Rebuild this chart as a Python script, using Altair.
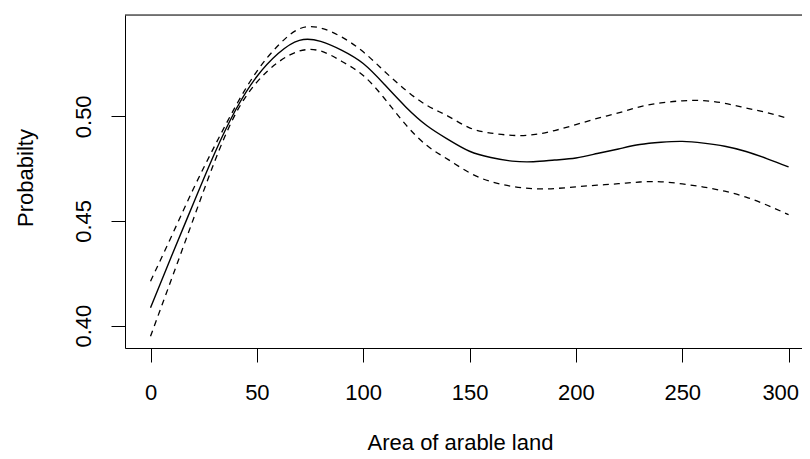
import altair as alt
import pandas as pd

# ---- data ----
x_vals = [0, 10, 20, 30, 40, 50, 60, 70, 80, 90, 100, 110, 120, 130, 140, 150,
          160, 170, 180, 190, 200, 210, 220, 230, 240, 250, 260, 270, 280, 290, 300]
fit = [0.4085, 0.4335, 0.4580, 0.4820, 0.5030, 0.5190, 0.5300, 0.5363, 0.5358, 0.5315,
       0.5252, 0.5152, 0.5045, 0.4955, 0.4889, 0.4833, 0.4803, 0.4786, 0.4783, 0.4791,
       0.4801, 0.4822, 0.4844, 0.4865, 0.4876, 0.4880, 0.4872, 0.4857, 0.4832, 0.4797, 0.4758]
upper = [0.4212, 0.4430, 0.4650, 0.4855, 0.5048, 0.5215, 0.5338, 0.5418, 0.5422, 0.5378,
         0.5308, 0.5215, 0.5125, 0.5052, 0.5000, 0.4945, 0.4920, 0.4909, 0.4912, 0.4932,
         0.4960, 0.4990, 0.5016, 0.5045, 0.5064, 0.5074, 0.5075, 0.5062, 0.5040, 0.5017, 0.4989]
lower = [0.3949, 0.4226, 0.4505, 0.4780, 0.5012, 0.5163, 0.5258, 0.5312, 0.5312, 0.5262,
         0.5195, 0.5085, 0.4960, 0.4860, 0.4793, 0.4730, 0.4688, 0.4665, 0.4654, 0.4655,
         0.4663, 0.4671, 0.4678, 0.4686, 0.4687, 0.4677, 0.4662, 0.4642, 0.4614, 0.4575, 0.4530]

x_ticks = [0, 50, 100, 150, 200, 250, 300]
y_ticks = [0.40, 0.45, 0.50]

df = pd.DataFrame({"x": x_vals, "fit": fit, "upper": upper, "lower": lower})

W, H = 677, 333
FONT = "Liberation Sans"

xscale = alt.Scale(domain=[-12, 306.3], nice=False, zero=False)
yscale = alt.Scale(domain=[0.3893, 0.5484], nice=False, zero=False)

xaxis = alt.Axis(values=x_ticks, tickSize=14, labelPadding=20, labelBaseline="top",
                 labelFlush=20, labelFlushOffset=10, labelOverlap=False, grid=False,
                 domain=True, domainColor="black", domainWidth=1,
                 tickColor="black", tickWidth=1,
                 labelFont=FONT, labelFontSize=22, labelColor="black",
                 title="Area of arable land", titleFont=FONT, titleFontSize=22,
                 titleFontWeight="normal", titleColor="black",
                 titleX=335, titleY=101, titleAlign="center", titleBaseline="alphabetic")

yaxis = alt.Axis(values=y_ticks, format=".2f", tickSize=14, labelPadding=21,
                 labelAngle=270, labelAlign="center", labelBaseline="alphabetic",
                 labelOverlap=False, labelFlush=False, grid=False,
                 domain=True, domainColor="black", domainWidth=1,
                 tickColor="black", tickWidth=1,
                 labelFont=FONT, labelFontSize=22, labelColor="black",
                 title="Probabilty", titleFont=FONT, titleFontSize=22,
                 titleFontWeight="normal", titleColor="black", titleAngle=270,
                 titleX=-93, titleY=162.5, titleAlign="center", titleBaseline="alphabetic")

base = alt.Chart(df)

fit_line = base.mark_line(color="black", strokeWidth=1.4, interpolate="natural").encode(
    x=alt.X("x:Q", scale=xscale, axis=xaxis),
    y=alt.Y("fit:Q", scale=yscale, axis=yaxis),
)
upper_line = base.mark_line(color="black", strokeWidth=1.3, strokeDash=[6, 5],
                            interpolate="natural").encode(
    x=alt.X("x:Q", scale=xscale),
    y=alt.Y("upper:Q", scale=yscale),
)
lower_line = base.mark_line(color="black", strokeWidth=1.3, strokeDash=[6, 5],
                            interpolate="natural").encode(
    x=alt.X("x:Q", scale=xscale),
    y=alt.Y("lower:Q", scale=yscale),
)

top_border = alt.Chart(pd.DataFrame({"a": [0]})).mark_rule(color="black", strokeWidth=1).encode(
    x=alt.value(0), x2=alt.value(W), y=alt.value(0)
)

chart = alt.layer(top_border, lower_line, upper_line, fit_line).properties(
    width=W, height=H,
    padding={"left": 117, "top": 7, "right": 0, "bottom": 108},
    autosize=alt.AutoSizeParams(type="none"),
).configure_view(stroke=None).configure(background="white")

chart.save("out.html", embed_options={"renderer": "svg", "actions": False})
